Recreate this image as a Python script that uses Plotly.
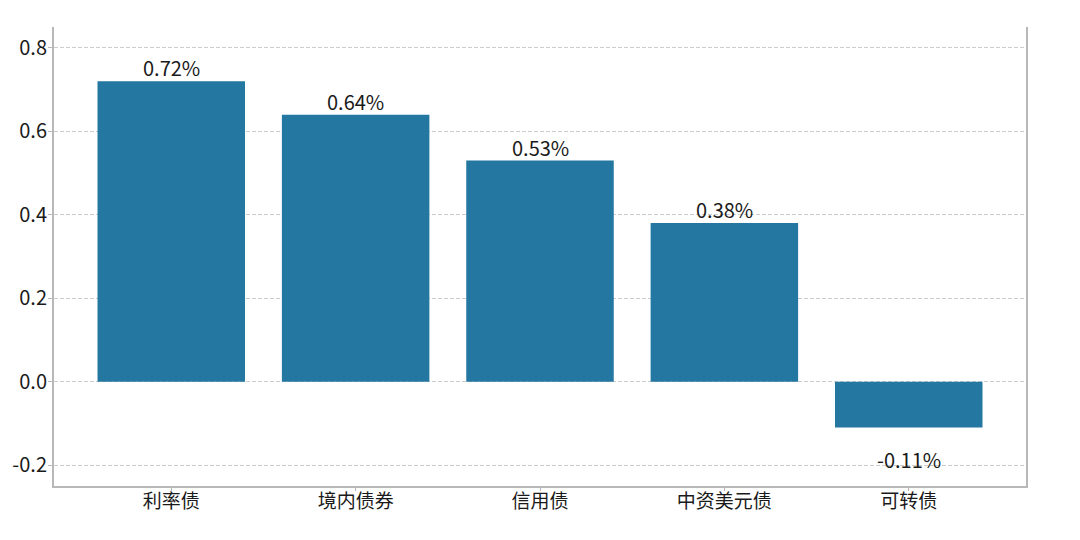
import plotly.graph_objects as go

categories = ["利率债", "境内债券", "信用债", "中资美元债", "可转债"]
values = [0.72, 0.64, 0.53, 0.38, -0.11]
labels = ["0.72%", "0.64%", "0.53%", "0.38%", "-0.11%"]
y_ticks = [-0.2, 0.0, 0.2, 0.4, 0.6, 0.8]
y_ticktext = ["-0.2", "0.0", "0.2", "0.4", "0.6", "0.8"]

FONT = "Noto Sans CJK SC, Noto Sans, DejaVu Sans, sans-serif"
BAR = "#2377a1"
AXIS = "#b8b8b8"

fig = go.Figure()
fig.add_trace(go.Bar(
    x=list(range(len(categories))), y=values,
    marker=dict(color=BAR, line=dict(width=0)),
    width=0.8, hoverinfo="skip",
))

for i, (v, t) in enumerate(zip(values, labels)):
    if v >= 0:
        fig.add_annotation(x=i, y=v, text=t, showarrow=False,
                           yanchor="bottom", yshift=-3,
                           font=dict(size=20, color="#1a1a1a", family=FONT))
    else:
        fig.add_annotation(x=i, y=v, text=t, showarrow=False,
                           yanchor="top", yshift=-15,
                           font=dict(size=20, color="#1a1a1a", family=FONT))

fig.update_layout(
    width=1064, height=524,
    margin=dict(l=46, r=46, t=19, b=46, autoexpand=False),
    paper_bgcolor="white", plot_bgcolor="white",
    showlegend=False,
    font=dict(family=FONT, size=19, color="#1a1a1a"),
)
fig.update_xaxes(
    range=[-0.636, 4.636], automargin=False,
    tickmode="array", tickvals=list(range(len(categories))), ticktext=categories,
    showgrid=False, zeroline=False,
    showline=True, linecolor=AXIS, linewidth=2,
    ticks="outside", ticklen=3, tickcolor=AXIS, tickwidth=1,
    ticklabelstandoff=-6,
    tickfont=dict(size=19, family=FONT, color="#1a1a1a"),
)
fig.update_yaxes(
    range=[-0.25, 0.85], automargin=False,
    tickmode="array", tickvals=y_ticks, ticktext=y_ticktext,
    showgrid=True, gridcolor="#cccccc", griddash="4px,2px", gridwidth=1,
    zeroline=False,
    showline=True, linecolor=AXIS, linewidth=2, mirror=True,
    ticks="outside", ticklen=4, tickcolor=AXIS, tickwidth=1,
    ticklabelstandoff=-3,
    tickfont=dict(size=20, family=FONT, color="#1a1a1a"),
)

fig.write_html("out.html")
